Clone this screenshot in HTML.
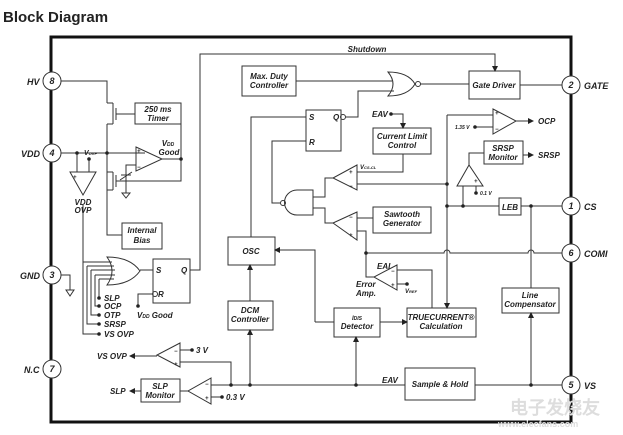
<!DOCTYPE html>
<html><head><meta charset="utf-8"><style>
html,body{margin:0;padding:0;background:#fff;width:623px;height:435px;overflow:hidden}
svg{display:block}
text{font-family:"Liberation Sans",sans-serif;font-weight:bold;font-style:italic;fill:#222}
</style></head><body>
<svg width="623" height="435" viewBox="0 0 623 435" xmlns="http://www.w3.org/2000/svg">
<defs>
<marker id="a" markerWidth="6" markerHeight="6" refX="5" refY="3" orient="auto" markerUnits="userSpaceOnUse"><path d="M0,0 L6,3 L0,6z" fill="#222"/></marker>
</defs>
<text x="3" y="22" font-size="15" style="font-style:normal">Block Diagram</text>
<g fill="none" stroke="#333" stroke-width="1">
<!-- outer -->
<path d="M51,37 H571 V422 H51 Z" stroke="#111" stroke-width="3"/>
<!-- shutdown -->
<path d="M190,270 H200 V54 H495 V71" marker-end="url(#a)"/>
<!-- boxes -->
<rect x="135" y="103" width="46" height="21"/>
<rect x="242" y="66" width="54" height="30"/>
<rect x="469" y="71" width="51" height="28"/>
<rect x="306" y="110" width="35" height="41"/>
<rect x="373" y="128" width="58" height="26"/>
<rect x="484" y="141" width="39" height="23"/>
<rect x="499" y="198" width="22" height="17"/>
<rect x="373" y="207" width="58" height="26"/>
<rect x="228" y="237" width="47" height="28"/>
<rect x="228" y="301" width="45" height="29"/>
<rect x="334" y="308" width="46" height="29"/>
<rect x="407" y="308" width="69" height="29"/>
<rect x="502" y="288" width="57" height="25"/>
<rect x="405" y="368" width="70" height="32"/>
<rect x="141" y="379" width="39" height="23"/>
<rect x="122" y="223" width="40" height="26"/>
<rect x="153" y="259" width="37" height="44"/>
<!-- NOR -->
<path d="M388,72 Q398,84 388,96 Q408,96 415,84 Q408,72 388,72Z"/>
<circle cx="418" cy="84" r="2.5"/>
<path d="M296,81 H392 M420,84 H469 M520,85 H562"/>
<path d="M346,117 H358 V91 H394"/>
<circle cx="343" cy="117" r="2.5"/>
<!-- EAV current limit -->
<path d="M391,114 H403 V128" marker-end="url(#a)"/>
<path d="M403,154 V172 H357"/>
<!-- OCP -->
<path d="M493,109 L516,121 L493,134Z"/>
<path d="M447,115 H493 M475,127 H493"/>
<path d="M516,121 H533" marker-end="url(#a)"/>
<path d="M523,155 H533" marker-end="url(#a)"/>
<!-- CS buffer -->
<path d="M457,186 L469,165 L483,186Z"/>
<path d="M469,165 V153 H484 M463,186 V206 M476,186 V193"/>
<path d="M447,115 V308" marker-end="url(#a)"/>
<path d="M447,206 H499 M521,206 H562"/>
<path d="M357,184 H447"/>
<!-- VCS-CL comparator -->
<path d="M357,165 L333,178 L357,190Z"/>
<!-- NAND -->
<path d="M313,190 H297 A12.5,12.5 0 0 0 297,215 H313Z"/>
<circle cx="283" cy="203" r="2.5"/>
<path d="M313,197 H325 V178 H333 M313,208 H325 V223 H333"/>
<path d="M306,141 H272 V203 H280"/>
<path d="M306,117 H251 V237"/>
<!-- sawtooth comparator -->
<path d="M357,212 L333,223 L357,240Z"/>
<path d="M357,218 H373 M357,231 H366 V277 H374"/>
<!-- COMI -->
<path d="M366,253 H444 A3,3 0 0 1 450,253 H528 A3,3 0 0 1 534,253 H562"/>
<!-- error amp -->
<path d="M397,265 L374,277 L397,290Z"/>
<path d="M397,270 H432 V308 M397,284 H407"/>
<!-- OSC / DCM -->
<path d="M315,322 V250 H275" marker-end="url(#a)"/>
<path d="M315,322 H334"/>
<path d="M250,301 V265" marker-end="url(#a)"/>
<path d="M250,385 V330" marker-end="url(#a)"/>
<path d="M380,322 H407" marker-end="url(#a)"/>
<path d="M356,385 V337" marker-end="url(#a)"/>
<path d="M531,206 V288"/>
<path d="M531,385 V313" marker-end="url(#a)"/>
<!-- VS line -->
<path d="M211,385 H405 M475,385 H562"/>
<!-- VS OVP comp -->
<path d="M180,343 L157,355 L180,367Z"/>
<path d="M180,350 H192 M180,362 H231 V385"/>
<path d="M157,356 H130" marker-end="url(#a)"/>
<!-- SLP comp -->
<path d="M211,378 L188,391 L211,404Z"/>
<path d="M211,397 H222 M188,391 H180"/>
<path d="M141,391 H130" marker-end="url(#a)"/>
<!-- left side -->
<path d="M61,81 H107 V103 M61,153 H145 M77,153 V172 M107,124 V190 M89,159 V172"/>
<path d="M113,103 V124 M116,108 V120 M116,114 H135 M107,103 H113 M107,124 H113"/>
<path d="M113,172 V190 M116,175 V187 M116,181 H181 V113 M107,172 H113 M107,190 H113"/>
<path d="M181,113 H181 M162,159 H181 M107,190 V235 H122"/>
<path d="M136,147 L162,159 L136,171Z"/>
<path d="M136,165 H126 V190 M120,180 L132,172 M121,175 H131 M126,190 V193"/>
<path d="M122,193 H130 L126,198Z"/>
<path d="M70,172 L96,172 L83,195Z"/>
<!-- OR inputs -->
<path d="M107,257 Q117,271 107,285 Q130,285 140,271 Q130,257 107,257Z"/>
<path d="M140,270 H153"/>
<path d="M83,205 V334 H99 M83,262 H112 M87,266 V324 H99 M87,266 H114 M91,270 V315 H99 M91,270 H115 M95,275 V306 H99 M95,275 H115 M99,279 V298 M99,279 H114"/>
<path d="M107,235 V250" stroke="none"/>
<circle cx="155" cy="294" r="2.5"/>
<path d="M152,294 H138 V306"/>
<!-- GND -->
<path d="M61,275 H70 V290 M66,290 H74 L70,296Z"/>
</g>
<g fill="#222">
<circle cx="77" cy="153" r="1.8"/><circle cx="107" cy="153" r="1.8"/><circle cx="181" cy="159" r="1.8"/><circle cx="89" cy="159" r="1.8"/>
<circle cx="391" cy="114" r="1.8"/><circle cx="475" cy="127" r="1.8"/><circle cx="476" cy="193" r="1.8"/>
<circle cx="447" cy="184" r="1.8"/><circle cx="447" cy="206" r="1.8"/><circle cx="463" cy="206" r="1.8"/><circle cx="531" cy="206" r="1.8"/>
<circle cx="366" cy="253" r="1.8"/><circle cx="407" cy="284" r="1.8"/>
<circle cx="231" cy="385" r="1.8"/><circle cx="250" cy="385" r="1.8"/><circle cx="356" cy="385" r="1.8"/><circle cx="531" cy="385" r="1.8"/>
<circle cx="192" cy="350" r="1.8"/><circle cx="222" cy="397" r="1.8"/><circle cx="138" cy="306" r="1.8"/>
<circle cx="99" cy="298" r="1.8"/><circle cx="99" cy="306" r="1.8"/><circle cx="99" cy="315" r="1.8"/><circle cx="99" cy="324" r="1.8"/><circle cx="99" cy="334" r="1.8"/>
</g>
<g fill="#fff" stroke="#333">
<circle cx="52" cy="81" r="9"/><circle cx="52" cy="153" r="9"/><circle cx="52" cy="275" r="9"/><circle cx="52" cy="369" r="9"/>
<circle cx="571" cy="85" r="9"/><circle cx="571" cy="206" r="9"/><circle cx="571" cy="253" r="9"/><circle cx="571" cy="385" r="9"/>
</g>
<g font-size="9" text-anchor="middle">
<text x="52" y="84">8</text><text x="52" y="156">4</text><text x="52" y="278">3</text><text x="52" y="372">7</text>
<text x="571" y="88">2</text><text x="571" y="209">1</text><text x="571" y="256">6</text><text x="571" y="388">5</text>
</g>
<g font-size="9">
<text x="27" y="85">HV</text><text x="21" y="157">VDD</text><text x="20" y="279">GND</text><text x="24" y="373">N.C</text>
<text x="584" y="89">GATE</text><text x="584" y="210">CS</text><text x="584" y="257">COMI</text><text x="584" y="389">VS</text>
</g>
<g font-size="8" text-anchor="middle">
<text x="158" y="112">250 ms</text><text x="158" y="121">Timer</text>
<text x="269" y="79">Max. Duty</text><text x="269" y="88">Controller</text>
<text x="494" y="88">Gate Driver</text>
<text x="402" y="139">Current Limit</text><text x="402" y="148">Control</text>
<text x="503" y="151">SRSP</text><text x="503" y="160">Monitor</text>
<text x="510" y="210">LEB</text>
<text x="402" y="217">Sawtooth</text><text x="402" y="226">Generator</text>
<text x="251" y="254">OSC</text>
<text x="250" y="313">DCM</text><text x="250" y="322">Controller</text>
<text x="357" y="320" font-size="6">I<tspan font-size="5">DIS</tspan></text><text x="357" y="329">Detector</text>
<text x="441" y="320">TRUECURRENT®</text><text x="441" y="329">Calculation</text>
<text x="530" y="298">Line</text><text x="530" y="307">Compensator</text>
<text x="440" y="387">Sample &amp; Hold</text>
<text x="160" y="389">SLP</text><text x="160" y="398">Monitor</text>
<text x="142" y="233">Internal</text><text x="142" y="243">Bias</text>
<text x="367" y="52">Shutdown</text>
<text x="83" y="205">VDD</text><text x="83" y="213">OVP</text>
<text x="168" y="146">V<tspan font-size="5">DD</tspan></text><text x="169" y="155">Good</text>
</g>
<g font-size="8">
<text x="309" y="120">S</text><text x="309" y="145">R</text><text x="333" y="120">Q</text>
<text x="156" y="273">S</text><text x="158" y="297">R</text><text x="181" y="273">Q</text>
<text x="372" y="117">EAV</text><text x="538" y="124">OCP</text><text x="538" y="158">SRSP</text>
<text x="455" y="129" font-size="5">1.35 V</text><text x="480" y="195" font-size="5">0.1 V</text>
<text x="360" y="169" font-size="6">V<tspan font-size="4">CS-CL</tspan></text>
<text x="377" y="269">EAI</text><text x="356" y="287">Error</text><text x="356" y="296">Amp.</text>
<text x="405" y="293" font-size="6">V<tspan font-size="4">REF</tspan></text>
<text x="382" y="383">EAV</text>
<text x="104" y="301">SLP</text><text x="104" y="309">OCP</text><text x="104" y="318">OTP</text><text x="104" y="327">SRSP</text><text x="104" y="337">VS OVP</text>
<text x="137" y="318">V<tspan font-size="5">DD</tspan> Good</text>
<text x="84" y="155" font-size="7">V<tspan font-size="4">OVP</tspan></text>
<text x="97" y="359">VS OVP</text><text x="110" y="394">SLP</text>
<text x="196" y="353">3 V</text><text x="226" y="400">0.3 V</text>
</g>
<g font-size="6" style="font-style:normal">
<text x="137" y="153">+</text><text x="137" y="169">−</text>
<text x="73" y="179">+</text>
<text x="495" y="115">+</text><text x="495" y="131">−</text>
<text x="349" y="174">+</text><text x="349" y="188">−</text>
<text x="349" y="219">−</text><text x="349" y="237">+</text>
<text x="391" y="273">−</text><text x="391" y="287">+</text>
<text x="174" y="353">−</text><text x="174" y="366">+</text>
<text x="205" y="386">−</text><text x="205" y="400">+</text>
<text x="474" y="183">+</text>
</g>
<text x="510" y="414" font-size="18" style="fill:#ddd;font-style:normal">电子发烧友</text>
<text x="498" y="427" font-size="9" style="fill:#ddd;font-style:normal">www.elecfans.com</text>
</svg>
</body></html>
